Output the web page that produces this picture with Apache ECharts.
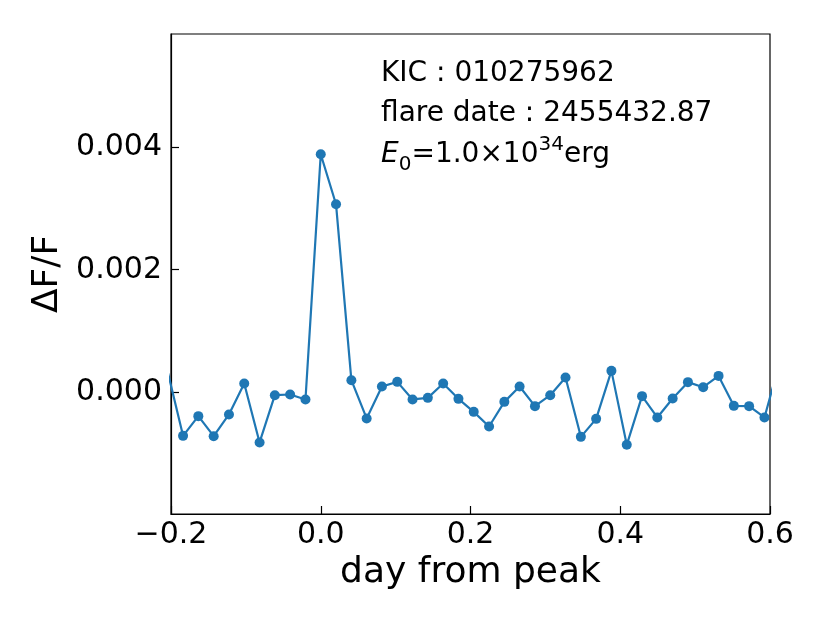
<!DOCTYPE html>
<html>
<head>
<meta charset="utf-8">
<script src="https://cdn.jsdelivr.net/npm/echarts@6/dist/echarts.min.js"></script>
<style>
  html, body { margin: 0; padding: 0; background: #fff; }
  #chart { width: 830px; height: 623px; }
</style>
</head>
<body>
<div id="chart"></div>
<script>
// days from flare peak (Kepler long cadence)
var days = [
  -0.2043, -0.1839, -0.1635, -0.1430, -0.1226, -0.1022, -0.0817, -0.0613, -0.0409, -0.0204,
  0.0000, 0.0204, 0.0409, 0.0613, 0.0817, 0.1022, 0.1226, 0.1430, 0.1635, 0.1839,
  0.2043, 0.2248, 0.2452, 0.2656, 0.2861, 0.3065, 0.3269, 0.3474, 0.3678, 0.3882,
  0.4087, 0.4291, 0.4495, 0.4700, 0.4904, 0.5108, 0.5313, 0.5517, 0.5721, 0.5926,
  0.6130
];
// ΔF/F
var dflux = [
  0.00033, -0.000707, -0.000386, -0.000712, -0.000358, 0.000147, -0.000814, -0.000044, -0.000033, -0.000114,
  0.003881, 0.003067, 0.000200, -0.000423, 0.000098, 0.000173, -0.000114, -0.000088, 0.000147, -0.000104,
  -0.000316, -0.000554, -0.000153, 0.000098, -0.000223, -0.000044, 0.000244, -0.000723, -0.000430, 0.000352,
  -0.000853, -0.000060, -0.000407, -0.000098, 0.000168, 0.000086, 0.000270, -0.000218, -0.000223, -0.000407,
  0.000494
];
var yTicks = [0, 0.002, 0.004];

var font = 'DejaVu Sans';
var points = days.map(function (d, i) { return [d, dflux[i]]; });

var chart = echarts.init(document.getElementById('chart'));
var option = {
  animation: false,
  backgroundColor: '#fff',
  grid: {
    left: 171, right: 60, top: 34, bottom: 109,
    show: true, borderColor: '#000', borderWidth: 1.2,
    outerBoundsMode: 'none'
  },
  xAxis: {
    type: 'value',
    min: -0.2, max: 0.6, interval: 0.2,
    name: 'day from peak',
    nameLocation: 'middle',
    nameGap: 40,
    nameTextStyle: { fontFamily: font, fontSize: 36, color: '#000' },
    axisLine: { onZero: false, lineStyle: { color: '#000', width: 1.2 } },
    axisTick: { inside: true, length: 8, lineStyle: { color: '#000', width: 1.2 } },
    axisLabel: {
      margin: 6, fontFamily: font, fontSize: 30, color: '#000',
      formatter: function (v) {
        v = Math.round(v * 10) / 10;
        return (v < 0 ? '\u2212' : '') + Math.abs(v).toFixed(1);
      }
    },
    splitLine: { show: false }
  },
  yAxis: {
    type: 'value',
    min: -0.00198, max: 0.00584,
    name: '\u0394F/F',
    nameLocation: 'middle',
    nameGap: 102,
    nameTextStyle: { fontFamily: font, fontSize: 36, color: '#000' },
    axisLine: { onZero: false, lineStyle: { color: '#000', width: 1.2 } },
    axisTick: { inside: true, length: 8, customValues: yTicks, lineStyle: { color: '#000', width: 1.2 } },
    axisLabel: {
      margin: 9, fontFamily: font, fontSize: 30, color: '#000',
      customValues: yTicks,
      formatter: function (v) { return v.toFixed(3); }
    },
    splitLine: { show: false }
  },
  graphic: [
    { type: 'text', x: 381, y: 74,
      style: { text: 'KIC : 010275962', fontFamily: font, fontSize: 28, fill: '#000', textVerticalAlign: 'middle' } },
    { type: 'text', x: 381, y: 114,
      style: { text: 'flare date : 2455432.87', fontFamily: font, fontSize: 28, fill: '#000', textVerticalAlign: 'middle' } },
    { type: 'text', x: 381, y: 155,
      style: {
        text: '{it|E}{sub|0}{n|=1.0\u00d710}{sup|34}{n|erg}',
        textVerticalAlign: 'middle',
        rich: {
          it: { fontFamily: font, fontSize: 28, fontStyle: 'italic', color: '#000', lineHeight: 40 },
          n: { fontFamily: font, fontSize: 28, color: '#000', lineHeight: 40 },
          sub: { fontFamily: font, fontSize: 20, color: '#000', lineHeight: 28, verticalAlign: 'bottom' },
          sup: { fontFamily: font, fontSize: 20, color: '#000', lineHeight: 28, verticalAlign: 'top' }
        }
      } }
  ],
  series: [{
    type: 'line',
    data: points,
    symbol: 'circle',
    symbolSize: 10,
    showSymbol: true,
    showAllSymbol: true,
    clip: true,
    itemStyle: { color: '#1f77b4' },
    lineStyle: { color: '#1f77b4', width: 2.2 }
  }]
};
chart.setOption(option);
</script>
</body>
</html>
